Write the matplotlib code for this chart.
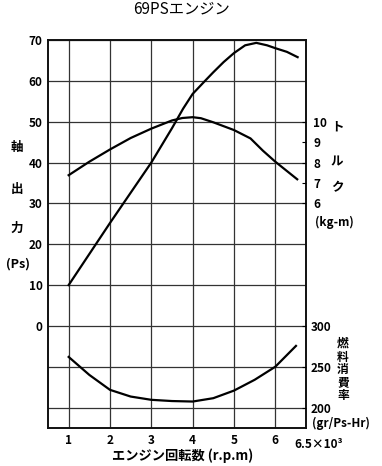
import matplotlib
matplotlib.use("Agg")
import matplotlib.pyplot as plt
import matplotlib.transforms as mtransforms

plt.rcParams['font.family'] = ['Noto Sans CJK JP', 'DejaVu Sans']
plt.rcParams['font.weight'] = 'bold'

# engine speed (x1000 rpm)
rpm = [1.0, 1.5, 2.0, 2.5, 3.0, 3.5, 3.77, 4.0, 4.3, 4.5, 4.75, 5.0, 5.27, 5.54, 5.8, 6.0, 6.28, 6.54]
# shaft output (Ps)
power = [10, 17.6, 25.2, 32.6, 40, 48.4, 53.2, 56.8, 60, 62.1, 64.6, 66.8, 68.7, 69.3, 68.7, 68.0, 67.1, 65.8]

rpm_t = [1.0, 1.5, 2.0, 2.5, 3.0, 3.5, 3.75, 4.0, 4.2, 4.5, 5.0, 5.4, 5.7, 6.0, 6.53]
# torque (kg-m)
torque = [7.38, 8.04, 8.64, 9.2, 9.66, 10.06, 10.18, 10.22, 10.17, 9.97, 9.59, 9.18, 8.58, 8.04, 7.18]

rpm_f = [1.0, 1.5, 2.0, 2.5, 3.0, 3.5, 4.0, 4.5, 5.0, 5.5, 6.0, 6.5]
# fuel consumption (gr/Ps-Hr)
fuel = [262, 240, 221.7, 213.5, 209.5, 208, 207.4, 211.5, 220.8, 234, 250, 275.5]

x_ticks = [1, 2, 3, 4, 5, 6]
power_ticks = [0, 10, 20, 30, 40, 50, 60, 70]
torque_ticks = [6, 7, 8, 9, 10]
fuel_ticks = [200, 250, 300]

W, H = 382, 466
fig = plt.figure(figsize=(W / 100, H / 100), dpi=100)
ax = fig.add_axes([48 / W, 1 - 428 / H, (306.3 - 48) / W, (428 - 40) / H])

ax.set_xlim(0.5, 6.75)
ax.set_ylim(-25, 70)
ax.set_xticks(x_ticks)
ax.set_yticks(list(range(-20, 71, 10)))
ax.set_yticklabels([str(v) if v >= 0 else '' for v in range(-20, 71, 10)])
ax.grid(True, color='#333333', linewidth=0.9)
ax.tick_params(axis='both', length=0, labelsize=8.5)
ax.tick_params(axis='y', pad=4)
ax.tick_params(axis='x', pad=4)
for s in ax.spines.values():
    s.set_linewidth(1.4)
    s.set_color('#111111')

ax.plot(rpm, power, color='black', linewidth=1.6)

# torque axis (right)
ax_t = ax.twinx()
ax_t.set_ylim(-5, 14)
ax_t.set_yticks(torque_ticks)
ax_t.tick_params(axis='y', direction='in', length=3, labelsize=8.5, pad=5)
ax_t.plot(rpm_t, torque, color='black', linewidth=1.6)
for s in ax_t.spines.values():
    s.set_visible(False)

# fuel consumption axis (right)
ax_f = ax.twinx()
ax_f.set_ylim(175, 650)
ax_f.set_yticks(fuel_ticks)
ax_f.tick_params(axis='y', direction='in', length=3, labelsize=8.5, pad=3)
ax_f.plot(rpm_f, fuel, color='black', linewidth=1.6)
for s in ax_f.spines.values():
    s.set_visible(False)

trans = mtransforms.blended_transform_factory(ax.transData, ax.transAxes)
ax.text(6.47, -0.025, '6.5×10³', transform=trans, ha='left', va='top', fontsize=8.5)


def px(x, y):
    return x / W, 1 - y / H


fig.text(*px(182, 9), '69PSエンジン', ha='center', va='center', fontsize=11, fontweight='normal')
fig.text(*px(183, 456), 'エンジン回転数 (r.p.m)', ha='center', va='center', fontsize=9.5)

for ch, yy in [('軸', 147), ('出', 189), ('力', 228)]:
    fig.text(*px(17, yy), ch, ha='center', va='center', fontsize=9)
fig.text(*px(18, 264), '(Ps)', ha='center', va='center', fontsize=9)

for ch, yy in [('ト', 127), ('ル', 162), ('ク', 188)]:
    fig.text(*px(337, yy), ch, ha='center', va='center', fontsize=9)
fig.text(*px(334, 222), '(kg-m)', ha='center', va='center', fontsize=8.5)

for ch, yy in [('燃', 343), ('料', 357), ('消', 370), ('費', 383), ('率', 396)]:
    fig.text(*px(343, yy), ch, ha='center', va='center', fontsize=8.5)
fig.text(*px(312, 423), '(gr/Ps-Hr)', ha='left', va='center', fontsize=8.5)

fig.savefig('out.png', dpi=100)
